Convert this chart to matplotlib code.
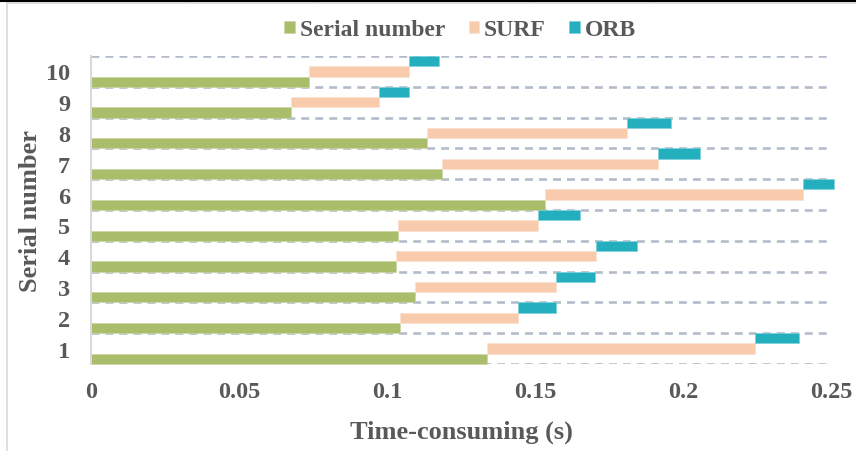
import matplotlib
matplotlib.use("Agg")
import matplotlib.pyplot as plt
import numpy as np
from matplotlib.lines import Line2D

# time (s) per image pair: feature stage durations, stacked end to end
serials = ["1", "2", "3", "4", "5", "6", "7", "8", "9", "10"]
serial_time = [0.1338, 0.1044, 0.1095, 0.1030, 0.1036, 0.1533, 0.1187, 0.1135, 0.0677, 0.0735]
surf_time = [0.0905, 0.0399, 0.0475, 0.0676, 0.0474, 0.0872, 0.0729, 0.0676, 0.0296, 0.0339]
orb_time = [0.0149, 0.0129, 0.0134, 0.0139, 0.0142, 0.0104, 0.0142, 0.0147, 0.0102, 0.0102]

green = "#a9bd6b"
peach = "#f8cbad"
teal = "#23afbd"
txt = "#595959"

plt.rcParams['font.family'] = ['Liberation Serif', 'DejaVu Serif']
plt.rcParams['font.weight'] = 'bold'
plt.rcParams['axes.labelweight'] = 'bold'

W, H = 856, 452
fig = plt.figure(figsize=(W / 100, H / 100), dpi=100)
ax = fig.add_axes([91 / W, 87 / H, 740 / W, 308 / H])

pos = np.arange(len(serials))
h = 1 / 3
serial_arr = np.array(serial_time)
surf_arr = np.array(surf_time)
orb_arr = np.array(orb_time)

ax.barh(pos - h, serial_arr, height=h, color=green, edgecolor="#c9d6a2",
        linewidth=0.5, label="Serial number", zorder=2, clip_on=False)
ax.barh(pos, surf_arr, left=serial_arr, height=h, color=peach, edgecolor="#fbe0ce",
        linewidth=0.5, label="SURF", zorder=2, clip_on=False)
ax.barh(pos + h, orb_arr, left=serial_arr + surf_arr, height=h, color=teal,
        edgecolor="#7fd0d8", linewidth=0.5, label="ORB", zorder=2, clip_on=False)

# dashed separators between serial numbers
for yy in np.arange(-0.5, len(serials), 1.0):
    ax.axhline(yy, color="#b4bccc", lw=1.9, ls=(0, (3.0, 2.3)), zorder=1)

ax.set_xlim(0, 0.25)
ax.set_ylim(-0.5, len(serials) - 0.5)
ax.set_xticks([0, 0.05, 0.1, 0.15, 0.2, 0.25])
ax.set_xticklabels(["0", "0.05", "0.1", "0.15", "0.2", "0.25"])
ax.set_yticks(pos)
ax.set_yticklabels(serials)
ax.tick_params(axis="x", length=0, pad=12, labelsize=17.5, labelcolor=txt)
ax.tick_params(axis="y", length=0, pad=15, labelsize=17.5, labelcolor=txt)

for s in ["top", "right", "bottom"]:
    ax.spines[s].set_visible(False)
ax.spines["left"].set_color("#d9d9d9")
ax.spines["left"].set_linewidth(1.5)

ax.set_xlabel("Time-consuming (s)", fontsize=19, color=txt, va="center")
ax.xaxis.set_label_coords(0.5, -0.2175)
ax.set_ylabel("Serial number", fontsize=19, color=txt, va="center")
ax.yaxis.set_label_coords(-0.0824, 0.5)

fig.legend(loc="center", bbox_to_anchor=(460 / W, 1 - 31 / H), ncol=3,
           frameon=False, fontsize=17, labelcolor=txt,
           handlelength=0.45, handleheight=0.45, handletextpad=0.2,
           columnspacing=1.0)

# outer chart border and rule above it
fig.add_artist(Line2D([7 / W, 7 / W], [0, 1 - 4 / H], color="#d9d9d9", lw=1.2))
fig.add_artist(Line2D([7 / W, 1], [1 - 4 / H] * 2, color="#d9d9d9", lw=1.2))
fig.add_artist(Line2D([0, 1], [1 - 2 / H] * 2, color="black", lw=1.5))
for tx in [187, 314, 528, 651]:
    fig.add_artist(Line2D([tx / W] * 2, [1 - 2 / H, 1], color="black", lw=0.8))

fig.savefig("out.png", dpi=100, facecolor="white")
